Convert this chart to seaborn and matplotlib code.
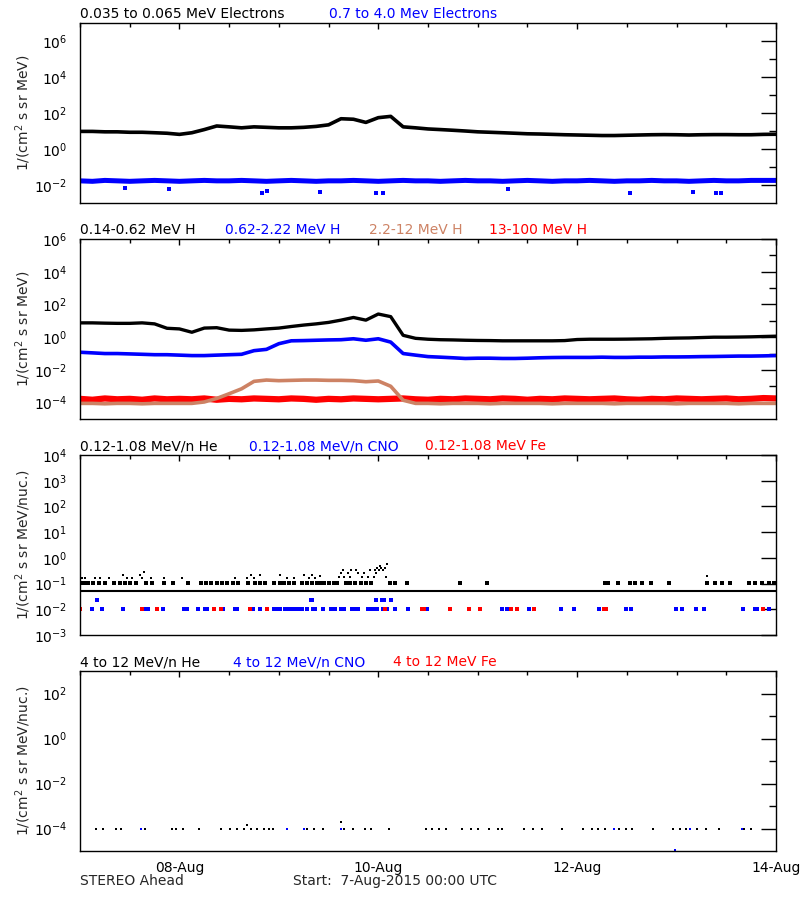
import matplotlib

matplotlib.use("Agg")
import matplotlib.dates as mdates
import matplotlib.pyplot as plt
import matplotlib.ticker as mticker
import numpy as np
import pandas as pd
import seaborn as sns

START = pd.Timestamp("2015-08-07 00:00")
END = pd.Timestamp("2015-08-14 00:00")

# 3-hourly readings, 7-Aug 00:00 .. 14-Aug 00:00 (57 samples)
grid = pd.date_range(START, END, freq="3h")

# ---- panel 1: electrons
e_low = [
    9.5, 9.5, 9.0, 9.0, 8.5, 8.5, 8.0, 7.5,
    6.5, 8.0, 12, 19, 17, 15, 17, 16,
    15, 15, 16, 18, 22, 48, 45, 30,
    55, 65, 17, 15, 13, 12, 11, 10,
    9.0, 8.5, 8.0, 7.5, 7.0, 6.8, 6.5, 6.2,
    6.0, 5.8, 5.6, 5.6, 5.8, 6.0, 6.2, 6.3,
    6.2, 6.0, 6.2, 6.3, 6.3, 6.2, 6.2, 6.5,
    6.6,
]
e_high = [
    0.017, 0.016, 0.018, 0.017, 0.016, 0.017, 0.018, 0.017,
    0.016, 0.017, 0.018, 0.017, 0.017, 0.018, 0.017, 0.016,
    0.017, 0.018, 0.017, 0.016, 0.017, 0.017, 0.018, 0.017,
    0.016, 0.017, 0.018, 0.017, 0.017, 0.016, 0.017, 0.018,
    0.017, 0.017, 0.016, 0.017, 0.018, 0.017, 0.016, 0.017,
    0.017, 0.018, 0.017, 0.016, 0.017, 0.017, 0.018, 0.017,
    0.017, 0.016, 0.017, 0.018, 0.017, 0.017, 0.018, 0.018,
    0.018,
]
e_high_out_days = [0.45, 0.9, 1.83, 1.88, 2.41, 2.98, 3.05, 4.3, 5.53, 6.17, 6.4, 6.45]
e_high_out_vals = [0.007, 0.006, 0.0038, 0.0045, 0.004, 0.0038, 0.0038, 0.006, 0.0038, 0.0042, 0.0038, 0.0038]

# ---- panel 2: protons
h_low = [
    7.5, 7.5, 7.2, 7.0, 7.0, 7.5, 6.5, 3.5,
    3.2, 2.0, 3.6, 3.8, 2.7, 2.6, 2.8, 3.2,
    3.6, 4.5, 5.5, 6.5, 8.0, 11, 16, 11,
    26, 18, 1.3, 0.85, 0.75, 0.7, 0.68, 0.65,
    0.63, 0.62, 0.6, 0.6, 0.6, 0.6, 0.6, 0.62,
    0.72, 0.75, 0.75, 0.75, 0.76, 0.78, 0.8, 0.85,
    0.88, 0.9, 0.95, 1.0, 1.0, 1.02, 1.05, 1.1,
    1.15,
]
h_mid = [
    0.12, 0.11, 0.10, 0.10, 0.095, 0.09, 0.085, 0.085,
    0.08, 0.075, 0.075, 0.08, 0.085, 0.09, 0.15, 0.18,
    0.4, 0.6, 0.62, 0.65, 0.68, 0.7, 0.8, 0.65,
    0.8, 0.5, 0.1, 0.08, 0.065, 0.06, 0.055, 0.05,
    0.052, 0.052, 0.05, 0.05, 0.052, 0.055, 0.057, 0.058,
    0.058, 0.058, 0.06, 0.058, 0.058, 0.06, 0.06, 0.062,
    0.062, 0.063, 0.065, 0.066, 0.068, 0.07, 0.07, 0.072,
    0.075,
]
h_high = [
    9e-5, 9e-5, 8.5e-5, 9e-5, 9e-5, 8.5e-5, 9e-5, 9e-5,
    9e-5, 9e-5, 1.1e-4, 1.8e-4, 3.5e-4, 7e-4, 2.0e-3, 2.4e-3,
    2.2e-3, 2.3e-3, 2.4e-3, 2.4e-3, 2.3e-3, 2.3e-3, 2.2e-3, 1.9e-3,
    2.1e-3, 1.0e-3, 1.4e-4, 9e-5, 9e-5, 8.5e-5, 9e-5, 9e-5,
    9e-5, 8.5e-5, 9e-5, 9e-5, 9e-5, 9e-5, 8.5e-5, 9e-5,
    9e-5, 9e-5, 9e-5, 8.5e-5, 9e-5, 9e-5, 9e-5, 9e-5,
    8.5e-5, 9e-5, 9e-5, 9e-5, 9e-5, 8.5e-5, 9e-5, 9e-5,
    9e-5,
]
h_top = [
    1.7e-4, 1.5e-4, 1.8e-4, 1.6e-4, 1.7e-4, 1.5e-4, 1.8e-4, 1.6e-4,
    1.7e-4, 1.6e-4, 1.8e-4, 1.5e-4, 1.7e-4, 1.6e-4, 1.8e-4, 1.7e-4,
    1.6e-4, 1.8e-4, 1.7e-4, 1.5e-4, 1.7e-4, 1.6e-4, 1.8e-4, 1.7e-4,
    1.6e-4, 1.7e-4, 1.8e-4, 1.6e-4, 1.5e-4, 1.7e-4, 1.6e-4, 1.8e-4,
    1.7e-4, 1.6e-4, 1.8e-4, 1.7e-4, 1.5e-4, 1.7e-4, 1.6e-4, 1.8e-4,
    1.7e-4, 1.6e-4, 1.7e-4, 1.8e-4, 1.6e-4, 1.5e-4, 1.7e-4, 1.6e-4,
    1.8e-4, 1.7e-4, 1.6e-4, 1.7e-4, 1.8e-4, 1.6e-4, 1.7e-4, 1.9e-4,
    1.8e-4,
]

# ---- panel 3: 0.12-1.08 MeV/n heavy ions
he_base_level = 0.053
he_mid_level = 0.105
he_mid_days = [
    0.0, 0.04, 0.08, 0.13, 0.19, 0.25, 0.34, 0.40, 0.45, 0.50, 0.56, 0.66, 0.72,
    0.84, 0.94, 1.09, 1.22, 1.27, 1.32, 1.38, 1.43, 1.48, 1.54, 1.59, 1.69, 1.76,
    1.81, 1.86, 1.95, 2.01, 2.05, 2.10, 2.15, 2.23, 2.28, 2.33, 2.38, 2.41, 2.45,
    2.50, 2.55, 2.58, 2.68, 2.72, 2.77, 2.83, 2.88, 2.93, 3.12, 3.17, 3.29, 3.82,
    4.09, 5.28, 5.31, 5.41, 5.53, 5.58, 5.65, 5.74, 5.92, 6.31, 6.39, 6.46, 6.54,
    6.73, 6.79, 6.86, 6.93, 6.98,
]
he_hi_days = [
    0.02, 0.05, 0.15, 0.2, 0.29, 0.43, 0.47, 0.52, 0.6, 0.62, 0.64, 0.71, 0.84,
    1.03, 1.56, 1.68, 1.72, 1.75, 1.81, 2.01, 2.08, 2.15, 2.25, 2.3, 2.33, 2.36,
    2.41, 2.6, 2.62, 2.65, 2.66, 2.7, 2.72, 2.73, 2.78, 2.8, 2.84, 2.86, 2.9,
    2.92, 2.96, 2.97, 2.98, 2.99, 3.01, 3.02, 3.03, 3.05, 3.07, 3.08, 3.09, 6.31,
]
he_hi_vals = [
    0.16, 0.16, 0.16, 0.16, 0.16, 0.22, 0.16, 0.16, 0.22, 0.16, 0.28, 0.16, 0.16,
    0.16, 0.16, 0.16, 0.22, 0.16, 0.22, 0.22, 0.16, 0.16, 0.22, 0.16, 0.22, 0.16,
    0.2, 0.18, 0.25, 0.35, 0.18, 0.25, 0.18, 0.35, 0.35, 0.25, 0.18, 0.25, 0.18,
    0.35, 0.18, 0.35, 0.25, 0.42, 0.35, 0.47, 0.42, 0.35, 0.42, 0.18, 0.6, 0.2,
]
cno_days = [
    0.12, 0.22, 0.43, 0.66, 0.68, 0.83, 1.05, 1.08, 1.19, 1.26, 1.28, 1.44, 1.56,
    1.58, 1.72, 1.74, 1.81, 1.95, 1.97, 2.01, 2.06, 2.1, 2.14, 2.18, 2.21, 2.23,
    2.28, 2.34, 2.36, 2.44, 2.52, 2.54, 2.56, 2.63, 2.66, 2.74, 2.77, 2.80, 2.90,
    2.93, 2.95, 2.99, 3.05, 3.07, 3.09, 3.17, 3.30, 3.49, 4.24, 4.29, 4.52, 4.84,
    4.97, 5.22, 5.49, 5.54, 5.99, 6.05, 6.20, 6.28, 6.67, 6.79, 6.81, 6.93,
    0.17, 2.32, 2.33, 2.98, 3.04, 3.06, 3.13,
]
cno_vals = [0.0107] * 64 + [0.024] * 7
fe_days = [0.0, 0.62, 0.77, 1.35, 1.42, 1.71, 1.88, 3.07, 3.44, 3.46, 3.72,
           3.91, 4.02, 4.33, 4.40, 4.57, 5.27, 5.29, 6.87]
fe_level = 0.0107

# ---- panel 4: 4-12 MeV/n heavy ions
he4_days = [
    0.16, 0.23, 0.36, 0.41, 0.65, 0.93, 0.97, 1.04, 1.20, 1.42, 1.51, 1.58, 1.65,
    1.72, 1.78, 1.85, 1.90, 1.94, 2.28, 2.35, 2.44, 2.66, 2.75, 2.87, 2.93, 3.11,
    3.48, 3.54, 3.61, 3.68, 3.84, 3.93, 4.0, 4.11, 4.2, 4.24, 4.47, 4.56, 4.65,
    4.85, 5.06, 5.15, 5.21, 5.28, 5.42, 5.49, 5.55, 5.76, 5.96, 6.03, 6.09, 6.21,
    6.30, 6.43, 6.68, 6.75, 1.68, 2.63,
]
he4_vals = [1e-4] * 56 + [1.5e-4, 2e-4]
cno4_days = [0.61, 2.08, 2.25, 2.63, 5.37, 6.14, 6.66, 5.98]
cno4_vals = [1e-4] * 7 + [1.1e-5]

BLACK, BLUE, BROWN, RED = "#000000", "#0000ff", "#cd8264", "#ff0000"


def days_to_time(days):
    return START + pd.to_timedelta(np.asarray(days, dtype=float), unit="D")


def exp_label(v, pos):
    return r"$\mathregular{10^{%d}}$" % int(round(np.log10(v)))


def setup_axis(ax, ylim, major_exp, minor_exp, ylabel, show_dates=False):
    ax.set_yscale("log")
    ax.set_ylim(*ylim)
    ax.set_xlim(START, END)
    ax.yaxis.set_major_locator(mticker.FixedLocator([10.0 ** e for e in major_exp]))
    ax.yaxis.set_minor_locator(mticker.FixedLocator([10.0 ** e for e in minor_exp]))
    ax.yaxis.set_major_formatter(mticker.FuncFormatter(exp_label))
    ax.yaxis.set_minor_formatter(mticker.NullFormatter())
    ax.xaxis.set_major_locator(mdates.DayLocator(bymonthday=[8, 10, 12, 14]))
    ax.xaxis.set_minor_locator(mdates.HourLocator(byhour=[0, 12]))
    ax.xaxis.set_major_formatter(mdates.DateFormatter("%d-%b"))
    ax.tick_params(which="both", direction="in", top=True, right=True,
                   labelsize=10, width=1, colors="black")
    ax.tick_params(axis="y", which="major", length=10.5, pad=9)
    ax.tick_params(axis="y", which="minor", length=5)
    ax.tick_params(axis="x", which="major", length=4.5, pad=7, labelbottom=show_dates)
    ax.tick_params(axis="x", which="minor", length=3)
    ax.set_xlabel("")
    ax.set_ylabel(ylabel, fontsize=10)
    ax.yaxis.set_label_coords(-0.068, 0.5)
    for sp in ax.spines.values():
        sp.set_linewidth(1)
        sp.set_color("black")


def title_row(top_px, items):
    for x_px, text, color in items:
        fig.text(x_px / 800, 1 - (top_px - 5) / 900, text, color=color,
                 fontsize=10, ha="left", va="baseline")


sns.set_theme(style="white", rc={"axes.facecolor": "white"})
plt.rcParams["font.family"] = ["DejaVu Sans"]

fig = plt.figure(figsize=(8, 9), dpi=100)
ax1 = fig.add_axes([0.1, 1 - 203 / 900, 0.87, 0.2])
ax2 = fig.add_axes([0.1, 1 - 419 / 900, 0.87, 0.2])
ax3 = fig.add_axes([0.1, 1 - 635 / 900, 0.87, 0.2])
ax4 = fig.add_axes([0.1, 1 - 851 / 900, 0.87, 0.2])

# panel 1
sns.lineplot(x=grid, y=e_low, color=BLACK, lw=2.6, ax=ax1)
sns.lineplot(x=grid, y=e_high, color=BLUE, lw=3.6, ax=ax1)
sns.scatterplot(x=days_to_time(e_high_out_days), y=e_high_out_vals, color=BLUE,
                marker="s", s=5, linewidth=0, ax=ax1)
setup_axis(ax1, (1e-3, 1e7), [-2, 0, 2, 4, 6], [-1, 1, 3, 5], "1/(cm$^2$ s sr MeV)")
title_row(23, [(80, "0.035 to 0.065 MeV Electrons", BLACK),
               (329, "0.7 to 4.0 Mev Electrons", BLUE)])

# panel 2
sns.lineplot(x=grid, y=h_low, color=BLACK, lw=2.4, ax=ax2)
sns.lineplot(x=grid, y=h_mid, color=BLUE, lw=2.6, ax=ax2)
sns.lineplot(x=grid, y=h_top, color=RED, lw=4.5, ax=ax2)
sns.lineplot(x=grid, y=h_high, color=BROWN, lw=2.6, ax=ax2)
setup_axis(ax2, (1e-5, 1e6), [-4, -2, 0, 2, 4, 6], [-3, -1, 1, 3, 5],
           "1/(cm$^2$ s sr MeV)")
title_row(239, [(80, "0.14-0.62 MeV H", BLACK), (225, "0.62-2.22 MeV H", BLUE),
                (369, "2.2-12 MeV H", BROWN), (489, "13-100 MeV H", RED)])

# panel 3
sns.lineplot(x=grid, y=[he_base_level] * len(grid), color=BLACK, lw=1.5, ax=ax3)
sns.scatterplot(x=days_to_time(he_mid_days), y=[he_mid_level] * len(he_mid_days),
                color=BLACK, marker="s", s=5, linewidth=0, ax=ax3)
sns.scatterplot(x=days_to_time(he_hi_days), y=he_hi_vals, color=BLACK,
                marker="s", s=4, linewidth=0, ax=ax3)
sns.scatterplot(x=days_to_time(cno_days), y=cno_vals, color=BLUE,
                marker="s", s=5, linewidth=0, ax=ax3)
sns.scatterplot(x=days_to_time(fe_days), y=[fe_level] * len(fe_days), color=RED,
                marker="s", s=6, linewidth=0, ax=ax3)
setup_axis(ax3, (1e-3, 1e4), [-3, -2, -1, 0, 1, 2, 3, 4], [],
           "1/(cm$^2$ s sr MeV/nuc.)")
title_row(455, [(80, "0.12-1.08 MeV/n He", BLACK), (249, "0.12-1.08 MeV/n CNO", BLUE),
                (425, "0.12-1.08 MeV Fe", RED)])

# panel 4
sns.scatterplot(x=days_to_time(he4_days), y=he4_vals, color=BLACK,
                marker="s", s=3, linewidth=0, ax=ax4)
sns.scatterplot(x=days_to_time(cno4_days), y=cno4_vals, color=BLUE,
                marker="s", s=3, linewidth=0, ax=ax4)
setup_axis(ax4, (1e-5, 1e3), [-4, -2, 0, 2], [-3, -1, 1],
           "1/(cm$^2$ s sr MeV/nuc.)", show_dates=True)
title_row(671, [(80, "4 to 12 MeV/n He", BLACK), (233, "4 to 12 MeV/n CNO", BLUE),
                (393, "4 to 12 MeV Fe", RED)])

fig.text(80 / 800, 1 - 885 / 900, "STEREO Ahead", fontsize=10, ha="left", va="baseline")
fig.text(293 / 800, 1 - 885 / 900, "Start:  7-Aug-2015 00:00 UTC", fontsize=10,
         ha="left", va="baseline")

fig.savefig("out.png", dpi=100)
